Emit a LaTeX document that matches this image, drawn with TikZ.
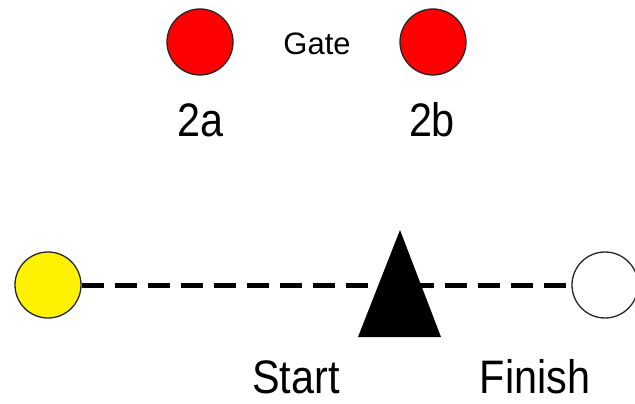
\documentclass[tikz,border=0pt]{standalone}
\usepackage{fontspec}
\setmainfont{Liberation Sans}
\begin{document}
\begin{tikzpicture}[x=1pt,y=-1pt,
  dot/.style={circle, draw=black!85, line width=1.3pt, minimum size=66pt, inner sep=0pt},
  bigtxt/.style={font=\fontsize{47}{56}\selectfont, xscale=0.88, inner sep=0pt, anchor=base},
  smalltxt/.style={font=\fontsize{31}{37}\selectfont, inner sep=0pt, anchor=base},
  track/.style={line width=5pt, dash pattern=on 22pt off 11pt}]
\useasboundingbox (0,0) rectangle (635,404);
\node[dot, fill=red] (g2a) at (200,42) {};
\node[dot, fill=red] (g2b) at (433,42) {};
\node[smalltxt] (gate) at (317,55) {Gate};
\node[bigtxt] (l2a) at (201,136) {2a};
\node[bigtxt] (l2b) at (432,136) {2b};
\node[dot, fill=yellow] (yel) at (48,285) {};
\node[dot, fill=white] (fin) at (605,285) {};
\draw[track] (yel.east) -- (fin.west);
\coordinate (tA) at (400,230);
\coordinate (tB) at (358,337);
\coordinate (tC) at (441,337);
\fill[black] (tA) -- (tB) -- (tC) -- cycle;
\node[bigtxt] (start) at (296,393) {Start};
\node[bigtxt] (finish) at (535,393) {Finish};
\end{tikzpicture}
\end{document}
